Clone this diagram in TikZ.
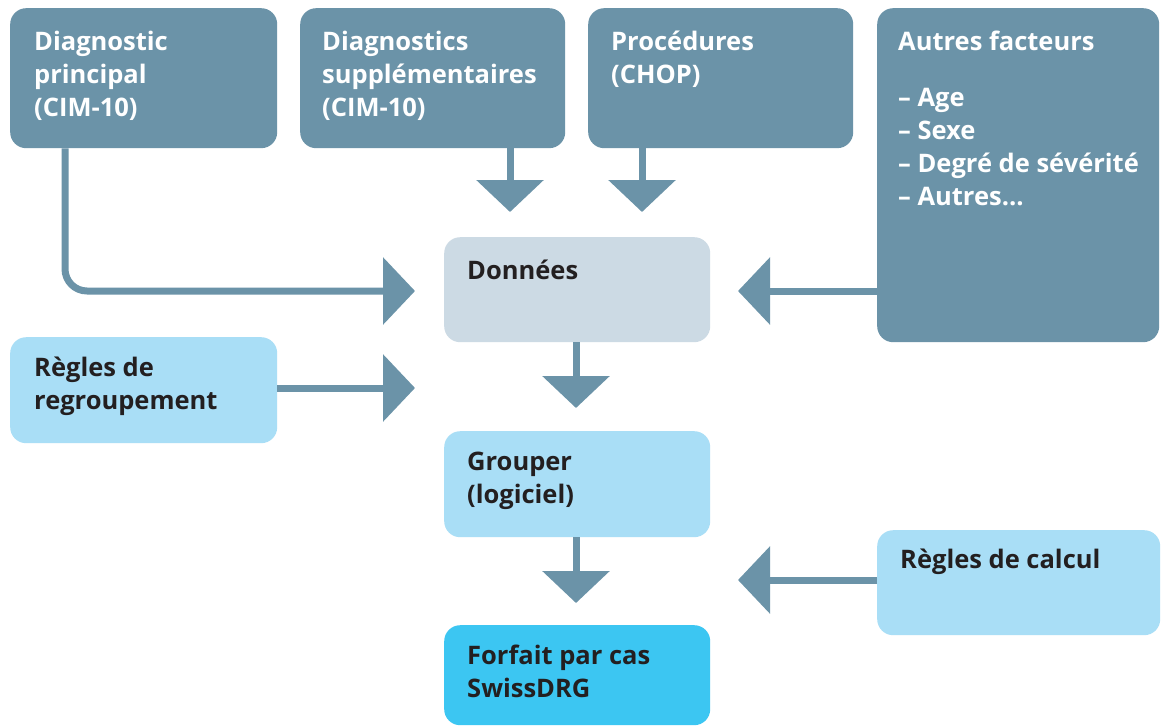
\documentclass[tikz,border=0pt]{standalone}
\usepackage{fontspec}
\setmainfont{Open Sans}
\usetikzlibrary{arrows.meta}
\definecolor{dk}{HTML}{6B93A8}
\definecolor{lt}{HTML}{A9DEF6}
\definecolor{gr}{HTML}{CCDAE4}
\definecolor{cy}{HTML}{3CC6F2}
\definecolor{ink}{HTML}{231F20}
\begin{document}
\begin{tikzpicture}[x=1pt,y=-1pt,
  box/.style={draw=none,rounded corners=16pt,anchor=north west,inner sep=0pt},
  txt/.style={anchor=base west,align=left,inner sep=0pt,font=\fontsize{25.5}{33}\selectfont\bfseries},
  arr/.style={draw=dk,line width=7pt,-{Triangle[width=66pt,length=32pt]}}]
\useasboundingbox (0,0) rectangle (1161,726);
\fill[white] (0,0) rectangle (1161,726);
% boxes
\node[box,fill=dk,minimum width=267pt,minimum height=140pt] (b1) at (10,8) {};
\node[box,fill=dk,minimum width=265pt,minimum height=140pt] (b2) at (300,8) {};
\node[box,fill=dk,minimum width=265pt,minimum height=140pt] (b3) at (588,8) {};
\node[box,fill=dk,minimum width=282pt,minimum height=334pt] (b4) at (877,8) {};
\node[box,fill=gr,minimum width=266pt,minimum height=105pt] (d) at (444,237) {};
\node[box,fill=lt,minimum width=267pt,minimum height=106pt] (r) at (10,337) {};
\node[box,fill=lt,minimum width=266pt,minimum height=106pt] (g) at (444,431) {};
\node[box,fill=lt,minimum width=283pt,minimum height=105pt] (c) at (877,530) {};
\node[box,fill=cy,minimum width=266pt,minimum height=100pt] (f) at (444,625) {};
% texts (anchor = baseline of the last line)
\node[txt,text=white] (t1) at (34,116) {Diagnostic\\principal\\(CIM-10)};
\node[txt,text=white] (t2) at (322,116) {Diagnostics\\supplémentaires\\(CIM-10)};
\node[txt,text=white] (t3) at (611,83) {Procédures\\(CHOP)};
\node[txt,text=white] (t4) at (898,50) {Autres facteurs};
\node[txt,text=white] (t4b) at (898,205) {– Age\\– Sexe\\– Degré de sévérité\\– Autres…};
\node[txt,text=ink] (td) at (467,279) {Données};
\node[txt,text=ink] (tr) at (34,409) {Règles de\\regroupement};
\node[txt,text=ink] (tg) at (467,503) {Grouper\\(logiciel)};
\node[txt,text=ink] (tc) at (900,568) {Règles de calcul};
\node[txt,text=ink] (tf) at (467,697) {Forfait par cas\\SwissDRG};
% arrow tips
\coordinate (p1) at (415,291);
\coordinate (p2) at (510,212);
\coordinate (p3) at (642,212);
\coordinate (p4) at (738,291);
\coordinate (p5) at (415,388);
\coordinate (p6) at (576,408);
\coordinate (p7) at (576,603);
\coordinate (p8) at (738,580);
% arrows
\draw[arr,rounded corners=22pt] (b1.south west) ++(55,0) |- (p1);
\draw[arr] (b2.south -| p2) -- (p2);
\draw[arr] (b3.south -| p3) -- (p3);
\draw[arr] (b4.west |- p4) -- (p4);
\draw[arr] (r.east |- p5) -- (p5);
\draw[arr] (d.south -| p6) -- (p6);
\draw[arr] (g.south -| p7) -- (p7);
\draw[arr] (c.west |- p8) -- (p8);
\end{tikzpicture}
\end{document}
